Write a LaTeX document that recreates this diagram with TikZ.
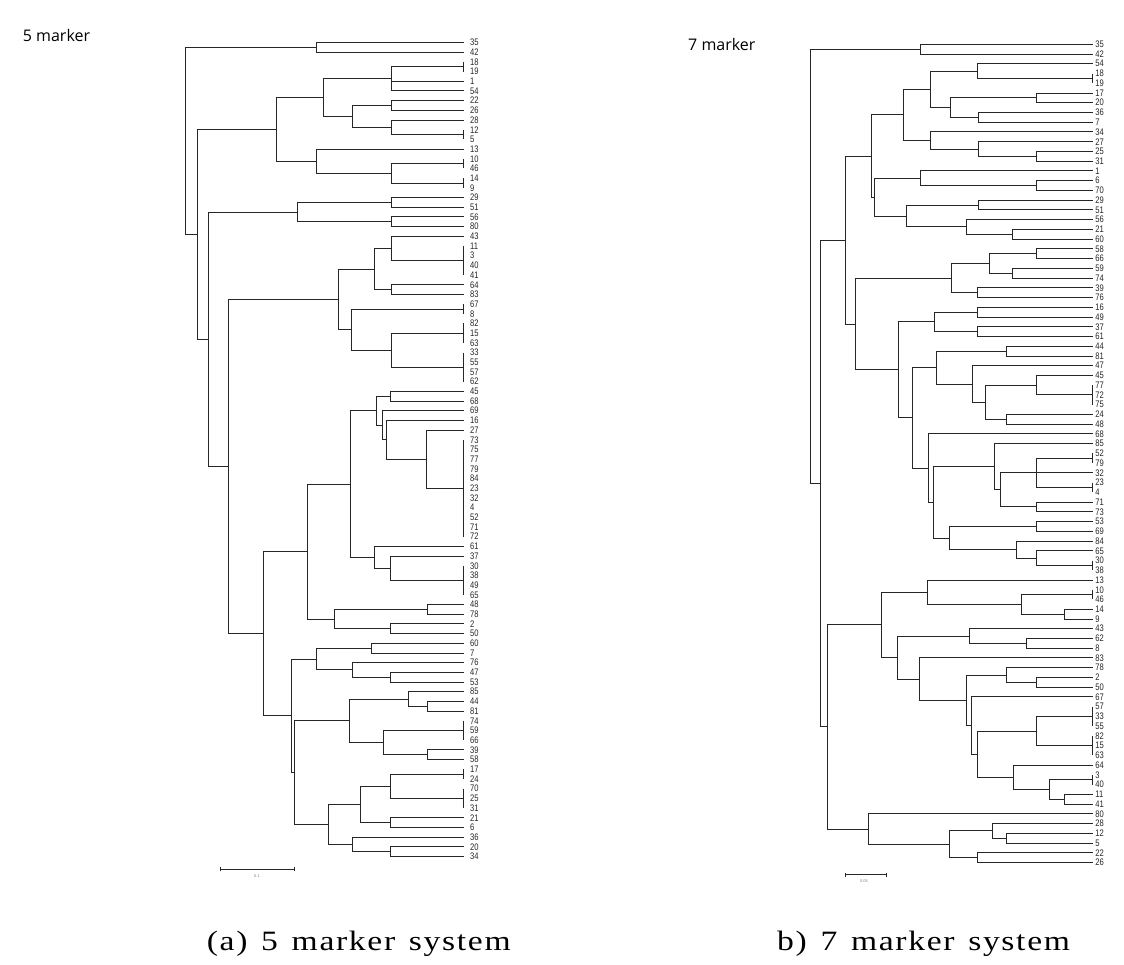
\documentclass[tikz,border=0pt]{standalone}
\usepackage{fontspec}
\setmainfont{Liberation Serif}
\newfontfamily\labfont{Liberation Sans}
\newfontfamily\titfont{Open Sans}
\newfontfamily\capfont[LetterSpace=5]{Liberation Serif}
\usetikzlibrary{calc}
\tikzset{
  br/.style={draw=black!85, line width=0.9pt},
  lab/.style={anchor=west, inner sep=0pt, text=black!85, font=\labfont\fontsize{9.5}{9.5}\selectfont},
  ttl/.style={anchor=base west, inner sep=0pt, font=\titfont\fontsize{16}{16}\selectfont},
  captxt/.style={anchor=base west, inner sep=0pt, font=\capfont\fontsize{28}{28}\selectfont},
  sblab/.style={inner sep=0pt, text=black!50, font=\labfont\fontsize{4}{4}\selectfont}
}
\newcommand\cl[4]{%
  \path let \p1=(#3), \p2=(#4) in coordinate (#1) at (#2,{0.5*(\y1+\y2)});
  \draw[br] let \p1=(#3), \p2=(#4) in (#3) -- (#2,\y1) -- (#2,\y2) -- (#4);
}
\newcommand\clm[5]{\cl{#1}{#2}{#3}{#4}\draw[br] let \p1=(#5) in (#5) -- (#2,\y1);}
\newcommand\captext[1]{\scalebox{1.2}[1]{#1}}
\newcommand\wsp{\hspace{3pt} }
\begin{document}
\begin{tikzpicture}[x=1pt,y=1pt]
\useasboundingbox (0,0) rectangle (1124,965);
\fill[white] (0,0) rectangle (1124,965);
% ---------------- left tree leaves
\foreach \n [count=\i] in {35,42,18,19,1,54,22,26,28,12,5,13,10,46,14,9,29,51,56,80,43,11,3,40,41,64,83,67,8,82,15,63,33,55,57,62,45,68,69,16,27,73,75,77,79,84,23,32,4,52,71,72,61,37,30,38,49,65,48,78,2,50,60,7,76,47,53,85,44,81,74,59,66,39,58,17,24,70,25,31,21,6,36,20,34}{
  \coordinate (a\n) at (463.7,{922.5-9.69*(\i-1)});
  \node[lab] (la\n) at ([xshift=6.3pt]a\n) {\scalebox{0.8}[1]{\n}};
}
% ---------------- right tree leaves
\foreach \n [count=\i] in {35,42,54,18,19,17,20,36,7,34,27,25,31,1,6,70,29,51,56,21,60,58,66,59,74,39,76,16,49,37,61,44,81,47,45,77,72,75,24,48,68,85,52,79,32,23,4,71,73,53,69,84,65,30,38,13,10,46,14,9,43,62,8,83,78,2,50,67,57,33,55,82,15,63,64,3,40,11,41,80,28,12,5,22,26}{
  \coordinate (b\n) at (1092.7,{920.7-9.74*(\i-1)});
  \node[lab] (lb\n) at ([xshift=2.5pt]b\n) {\scalebox{0.8}[1]{\n}};
}
% ---------------- left tree clades
\cl{aC3542}{316.7}{a35}{a42}
\cl{aT1819}{463.7}{a18}{a19}
\clm{aD1a}{391}{aT1819}{a54}{a1}
\cl{aC2226}{391}{a22}{a26}
\cl{aT125}{463.7}{a12}{a5}
\cl{aC28}{391}{a28}{aT125}
\cl{aD1b}{352.7}{aC2226}{aC28}
\cl{aD1}{323}{aD1a}{aD1b}
\cl{aT1046}{463.7}{a10}{a46}
\cl{aT149}{463.7}{a14}{a9}
\cl{aC1046}{391}{aT1046}{aT149}
\cl{aD2}{316.7}{a13}{aC1046}
\cl{aD}{276}{aD1}{aD2}
\cl{aC2951}{391}{a29}{a51}
\cl{aC5680}{391}{a56}{a80}
\cl{aE1}{297.7}{aC2951}{aC5680}
\cl{aT11}{463.7}{a11}{a41}
\cl{aC43}{391}{a43}{aT11}
\cl{aC6483}{391}{a64}{a83}
\cl{aF1a}{374.3}{aC43}{aC6483}
\cl{aT678}{463.7}{a67}{a8}
\cl{aT82}{463.7}{a82}{a63}
\cl{aT33}{463.7}{a33}{a62}
\cl{aC82}{391}{aT82}{aT33}
\cl{aF1b}{351}{aT678}{aC82}
\cl{aF1}{338.3}{aF1a}{aF1b}
\cl{aC4568}{390}{a45}{a68}
\cl{aT73}{463.7}{a73}{a72}
\cl{aG1a4}{426.7}{a27}{aT73}
\cl{aG1a3}{386.7}{a16}{aG1a4}
\cl{aG1a2}{382.3}{a69}{aG1a3}
\cl{aG1a}{376.7}{aC4568}{aG1a2}
\cl{aT30}{463.7}{a30}{a65}
\cl{aC37}{390}{a37}{aT30}
\cl{aG1b}{374.3}{a61}{aC37}
\cl{aG1}{350.7}{aG1a}{aG1b}
\cl{aC4878}{427.3}{a48}{a78}
\cl{aC250}{390}{a2}{a50}
\cl{aG2}{334.7}{aC4878}{aC250}
\cl{aG}{307}{aG1}{aG2}
\cl{aC607}{371}{a60}{a7}
\cl{aC4753}{390}{a47}{a53}
\cl{aC76}{352.7}{a76}{aC4753}
\cl{aH1}{316}{aC607}{aC76}
\cl{aC4481}{427.3}{a44}{a81}
\cl{aC85}{408.3}{a85}{aC4481}
\cl{aT74}{463.7}{a74}{a66}
\cl{aC3958}{427.3}{a39}{a58}
\cl{aC74}{383.7}{aT74}{aC3958}
\cl{aH2a}{349.3}{aC85}{aC74}
\cl{aT1724}{463.7}{a17}{a24}
\cl{aT70}{463.7}{a70}{a31}
\cl{aC17}{390}{aT1724}{aT70}
\cl{aC216}{390}{a21}{a6}
\cl{aH2b1}{360}{aC17}{aC216}
\cl{aC2034}{390}{a20}{a34}
\cl{aC36}{352.7}{a36}{aC2034}
\cl{aH2b}{328}{aH2b1}{aC36}
\cl{aH2}{294}{aH2a}{aH2b}
\cl{aH}{291.7}{aH1}{aH2}
\cl{aF2}{263.3}{aG}{aH}
\cl{aF}{228.3}{aF1}{aF2}
\cl{aE}{208.3}{aE1}{aF}
\cl{aB}{197.3}{aD}{aE}
\cl{aRoot}{185.7}{aC3542}{aB}
% ---------------- right tree clades
\cl{bC3542}{920}{b35}{b42}
\cl{bT1819}{1092.7}{b18}{b19}
\cl{bC54}{977.7}{b54}{bT1819}
\cl{bC1720}{1036}{b17}{b20}
\cl{bC367}{978.3}{b36}{b7}
\cl{bR5a2}{950}{bC1720}{bC367}
\cl{bR5a}{930}{bC54}{bR5a2}
\cl{bC2531}{1036}{b25}{b31}
\cl{bC27}{978.3}{b27}{bC2531}
\cl{bR5b}{930}{b34}{bC27}
\cl{bR5}{903.3}{bR5a}{bR5b}
\cl{bC670}{1036}{b6}{b70}
\cl{bC1}{920}{b1}{bC670}
\cl{bC2951}{978.3}{b29}{b51}
\cl{bC2160}{1012.7}{b21}{b60}
\cl{bC56}{966.7}{b56}{bC2160}
\cl{bR6b}{906}{bC2951}{bC56}
\cl{bR6}{874}{bC1}{bR6b}
\cl{bR3a}{871.7}{bR5}{bR6}
\cl{bC5866}{1036}{b58}{b66}
\cl{bC5974}{1012.7}{b59}{b74}
\cl{bR7a}{989.3}{bC5866}{bC5974}
\cl{bC3976}{977.7}{b39}{b76}
\cl{bR7}{951.7}{bR7a}{bC3976}
\cl{bC1649}{977.7}{b16}{b49}
\cl{bC3761}{977.7}{b37}{b61}
\cl{bR8a}{934.3}{bC1649}{bC3761}
\cl{bC4481}{1006.7}{b44}{b81}
\cl{bT77}{1092.7}{b77}{b75}
\cl{bC45}{1036}{b45}{bT77}
\cl{bC2448}{1006.7}{b24}{b48}
\cl{bR10c}{985}{bC45}{bC2448}
\cl{bR10b}{972.7}{b47}{bR10c}
\cl{bR10}{936}{bC4481}{bR10b}
\cl{bT5279}{1092.7}{b52}{b79}
\cl{bT234}{1092.7}{b23}{b4}
\cl{bC52}{1036}{bT5279}{bT234}
\cl{bC7173}{1036}{b71}{b73}
\clm{bR13b}{1000}{bC52}{bC7173}{b32}
\cl{bR13}{994}{b85}{bR13b}
\cl{bC5369}{1036}{b53}{b69}
\cl{bT3038}{1092.7}{b30}{b38}
\cl{bC65}{1036}{b65}{bT3038}
\cl{bR14b}{1016}{b84}{bC65}
\cl{bR14}{949}{bC5369}{bR14b}
\cl{bR12}{933.3}{bR13}{bR14}
\cl{bR11}{928.7}{b68}{bR12}
\cl{bR9}{912.7}{bR10}{bR11}
\cl{bR8}{898.3}{bR8a}{bR9}
\cl{bR3b}{855}{bR7}{bR8}
\cl{bR3}{845}{bR3a}{bR3b}
\cl{bT1046}{1092.7}{b10}{b46}
\cl{bC149}{1064.3}{b14}{b9}
\cl{bR15a2}{1021}{bT1046}{bC149}
\cl{bR15a}{927.7}{b13}{bR15a2}
\cl{bC628}{1026}{b62}{b8}
\cl{bR15c}{969}{b43}{bC628}
\cl{bC250}{1036}{b2}{b50}
\cl{bC78}{1006.7}{b78}{bC250}
\cl{bT57}{1092.7}{b57}{b55}
\cl{bT82}{1092.7}{b82}{b63}
\cl{bC57}{1036}{bT57}{bT82}
\cl{bT340}{1092.7}{b3}{b40}
\cl{bC1141}{1064}{b11}{b41}
\cl{bR22}{1049.3}{bT340}{bC1141}
\cl{bR21}{1013.3}{b64}{bR22}
\cl{bR20}{977.7}{bC57}{bR21}
\cl{bR19}{971.7}{b67}{bR20}
\cl{bR18}{966}{bC78}{bR19}
\cl{bR17}{919}{b83}{bR18}
\cl{bR15b}{897.3}{bR15c}{bR17}
\cl{bR15}{881.7}{bR15a}{bR15b}
\cl{bC125}{1006.7}{b12}{b5}
\cl{bC28}{992.3}{b28}{bC125}
\cl{bC2226}{977.7}{b22}{b26}
\cl{bR23}{949.3}{bC28}{bC2226}
\cl{bR16}{868.3}{b80}{bR23}
\cl{bR4}{827.3}{bR15}{bR16}
\cl{bR2}{820.7}{bR3}{bR4}
\cl{bRoot}{810.7}{bC3542}{bR2}
% ---------------- scale bars
\coordinate (sa1) at (220.7,95.7);
\coordinate (sa2) at (294,95.7);
\draw[br] (sa1) -- (sa2);
\draw[br] ([yshift=-2pt]sa1) -- ([yshift=2pt]sa1);
\draw[br] ([yshift=-2pt]sa2) -- ([yshift=2pt]sa2);
\node[sblab] (sal) at (257,89) {0.1};
\coordinate (sb1) at (845.7,90.3);
\coordinate (sb2) at (886,90.3);
\draw[br] (sb1) -- (sb2);
\draw[br] ([yshift=-2pt]sb1) -- ([yshift=2pt]sb1);
\draw[br] ([yshift=-2pt]sb2) -- ([yshift=2pt]sb2);
\node[sblab] (sbl) at (864,84) {0.05};
% ---------------- titles and captions
\node[ttl] (t5) at (22.7,923.3) {5 marker};
\node[ttl] (t7) at (688,914) {7 marker};
\node[captxt] (c5) at (206.7,14) {\captext{(a)\wsp 5\wsp marker\wsp system}};
\node[captxt] (c7) at (777,14) {\captext{b)\wsp 7\wsp marker\wsp system}};
\end{tikzpicture}
\end{document}
